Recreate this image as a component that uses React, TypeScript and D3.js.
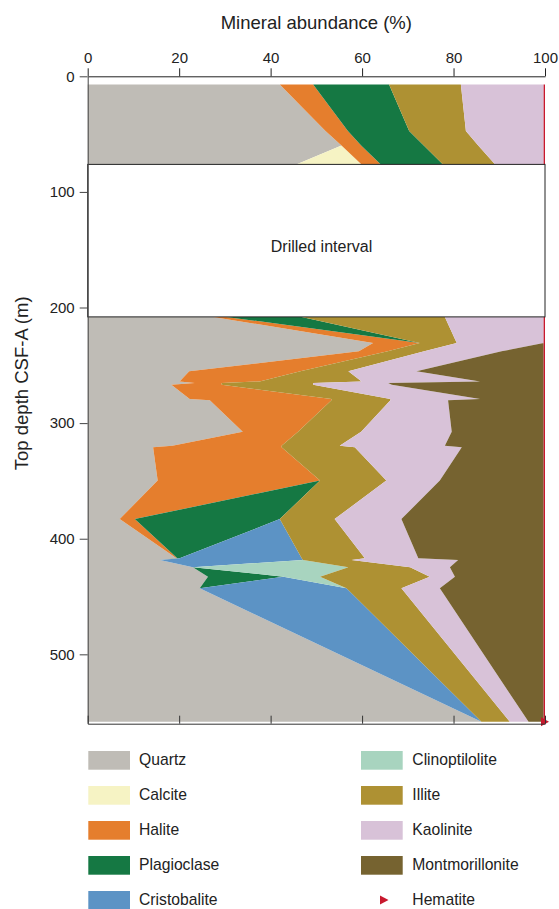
import React from "react"
import * as d3 from "d3"

// sample depths (m, CSF-A); first four are above the drilled interval
const depths = [7, 47.4, 59.8, 76.2, 208.1, 230.7, 237.9, 255.2, 263.9, 265.3, 266.8, 279.2, 280.3, 307.5, 319.6, 320.8, 349.6, 383, 416.9, 418.4, 424.7, 432.8, 442.9, 558.4]

const quartz = [42, 52, 55.5, 45.6, 27.4, 62.4, 59.3, 22.2, 20.1, 23.4, 18.3, 22.3, 26.7, 33.9, 18.5, 14.3, 15.3, 7, 19.4, 15.8, 23, 26.3, 24.5, 86.1]
const calcite = [0, 0, 0, 14.3, 0, 0, 0, 0, 0, 0, 0, 0, 0, 0, 0, 0, 0, 0, 0, 0, 0, 0, 0, 0]
const halite = [7.3, 4.9, 4.3, 4.2, 2.9, 10.2, 6.3, 24.3, 17.5, 5.9, 11, 31, 26.6, 12.1, 23.9, 28.1, 35.5, 3.3, 0.2, 0, 0, 0, 0, 0]
const plagioclase = [16.6, 13.4, 13.7, 13.6, 16.5, 0, 0, 0, 0, 0, 0, 0, 0, 0, 0, 0, 0, 31.7, 0.5, 0, 0, 16.5, 0, 0]
const cristobalite = [0, 0, 0, 0, 0, 0, 0, 0, 0, 0, 0, 0, 0, 0, 0, 0, 0, 0, 26.7, 31.3, 0, 0, 32.1, 0]
const clinoptilolite = [0, 0, 0, 0, 0, 0, 0, 0, 0, 0, 0, 0, 0, 0, 0, 0, 0, 0, 0, 0, 34, 8, 0, 0]
const illite = [15.7, 12.4, 11.9, 11.4, 31.3, 8.1, 8, 10.5, 22.3, 20, 20, 12.9, 12.9, 13.8, 12.7, 16, 14.5, 12, 13.8, 10.6, 13.5, 24, 12, 6.2]
const kaolinite = [18.1, 17, 14.3, 10.6, 21.6, 19, 16.9, 14.9, 25.9, 16.4, 17.2, 19.6, 12.6, 19.8, 23, 23.4, 11.7, 14.6, 11.7, 23.3, 8.7, 5.5, 8.4, 4.1]
const montmorillonite = [0, 0, 0, 0, 0, 0, 9.2, 27.8, 13.9, 34, 33.2, 13.9, 20.9, 20.1, 21.6, 17.9, 22.7, 31.1, 27.4, 18.7, 20.5, 19.4, 22.7, 3.3]
const hematite = [0.3, 0.3, 0.3, 0.3, 0.3, 0.3, 0.3, 0.3, 0.3, 0.3, 0.3, 0.3, 0.3, 0.3, 0.3, 0.3, 0.3, 0.3, 0.3, 0.3, 0.3, 0.3, 0.3, 0.3]

const minerals = ["Quartz", "Calcite", "Halite", "Plagioclase", "Cristobalite", "Clinoptilolite", "Illite", "Kaolinite", "Montmorillonite", "Hematite"]
const series = [quartz, calcite, halite, plagioclase, cristobalite, clinoptilolite, illite, kaolinite, montmorillonite, hematite]
const colors = ["#bfbcb6", "#f6f3c4", "#e57e2d", "#157843", "#5c93c5", "#a8d4bf", "#ae9133", "#d8c2d8", "#766330", "#c8192e"]

const xTicks = [0, 20, 40, 60, 80, 100]
const yTicks = [0, 100, 200, 300, 400, 500]

const drilledTop = 76.2
const drilledBottom = 208.1

const W = 559
const H = 909
const font = "'Liberation Sans', Arial, sans-serif"

export default function App() {
  const topAxisRef = React.useRef(null)
  const leftAxisRef = React.useRef(null)
  const bottomAxisRef = React.useRef(null)

  const x = d3.scaleLinear().domain([0, 100]).range([87.7, 545])
  const y = d3.scaleLinear().domain([0, 560]).range([76.3, 723.7])

  const rows = depths.map((d, i) => {
    const r: any = { depth: d }
    minerals.forEach((m, k) => (r[m] = series[k][i]))
    return r
  })
  const stacked = d3.stack().keys(minerals)(rows)

  // two cored sections, split by the drilled interval
  const sections = [
    (i: number) => depths[i] <= drilledTop,
    (i: number) => depths[i] >= drilledBottom,
  ]

  const area = (inSection: (i: number) => boolean) =>
    d3
      .area<any>()
      .defined((d: any) => inSection(depths.indexOf(d.data.depth)))
      .y((d: any) => y(d.data.depth))
      .x0((d: any) => x(d[0]))
      .x1((d: any) => x(d[1]))

  React.useEffect(() => {
    const top = d3.select(topAxisRef.current)
    top.call(
      d3.axisTop(x).tickValues(xTicks).tickSize(8).tickSizeOuter(0).tickPadding(5.5) as any
    )
    top.selectAll("text").attr("font-size", 15).attr("font-family", font).attr("fill", "#222")
    top.selectAll("line,path").attr("stroke", "#222")

    const left = d3.select(leftAxisRef.current)
    left.call(
      d3.axisLeft(y).tickValues(yTicks).tickSize(8).tickSizeOuter(0).tickPadding(5) as any
    )
    left.selectAll("text").attr("font-size", 15).attr("font-family", font).attr("fill", "#222")
    left.selectAll("line,path").attr("stroke", "#444")

    const bottom = d3.select(bottomAxisRef.current)
    bottom.call(
      d3.axisBottom(x).tickValues(xTicks).tickSize(-8).tickSizeOuter(0).tickFormat(() => "") as any
    )
    bottom.selectAll("line,path").attr("stroke", "#333")
  }, [])

  const last = depths.length - 1
  const mx = x(100)
  const my = y(depths[last])

  return (
    <div style={{ position: "absolute", left: 0, top: 0 }}>
      <svg width={W} height={H} style={{ display: "block", background: "#fff" }}>
        {sections.map((inSection, s) => (
          <g key={s}>
            {stacked.map((layer, k) => (
              <path key={k} d={area(inSection)(layer as any) || ""} fill={colors[k]} />
            ))}
          </g>
        ))}

        <rect
          x={x(0)}
          y={y(drilledTop)}
          width={x(100) - x(0)}
          height={y(drilledBottom) - y(drilledTop)}
          fill="#fff"
          stroke="#222"
          strokeWidth={1}
        />
        <text
          x={321.5}
          y={252.3}
          textAnchor="middle"
          fontSize={16}
          fontFamily={font}
          fill="#222"
        >
          Drilled interval
        </text>

        <path
          d={`M${mx - 4},${my - 4.5}L${mx + 4},${my}L${mx - 4},${my + 4.5}Z`}
          fill={colors[9]}
        />

        <g ref={topAxisRef} transform={`translate(0,${y(0)})`} />
        <g ref={leftAxisRef} transform={`translate(${x(0)},0)`} />
        <g ref={bottomAxisRef} transform={`translate(0,${y(560)})`} />

        <text
          x={(x(0) + x(100)) / 2}
          y={29.3}
          textAnchor="middle"
          fontSize={18.5}
          fontFamily={font}
          fill="#222"
        >
          Mineral abundance (%)
        </text>
        <text
          transform={`translate(28.3,383.3) rotate(-90)`}
          textAnchor="middle"
          fontSize={18.5}
          fontFamily={font}
          fill="#222"
        >
          Top depth CSF-A (m)
        </text>

        {minerals.map((m, k) => {
          const col = k < 5 ? 0 : 1
          const row = k % 5
          const sx = col === 0 ? 88.3 : 361
          const sy = 751 + row * 35
          const tx = col === 0 ? 139 : 412.3
          return (
            <g key={m}>
              {m === "Hematite" ? (
                <path
                  d={`M380,${sy + 4.5}L388.5,${sy + 9}L380,${sy + 13.5}Z`}
                  fill={colors[k]}
                />
              ) : (
                <rect x={sx} y={sy} width={41.7} height={18.7} fill={colors[k]} />
              )}
              <text x={tx} y={sy + 14} fontSize={15.7} fontFamily={font} fill="#222">
                {m}
              </text>
            </g>
          )
        })}
      </svg>
    </div>
  )
}
